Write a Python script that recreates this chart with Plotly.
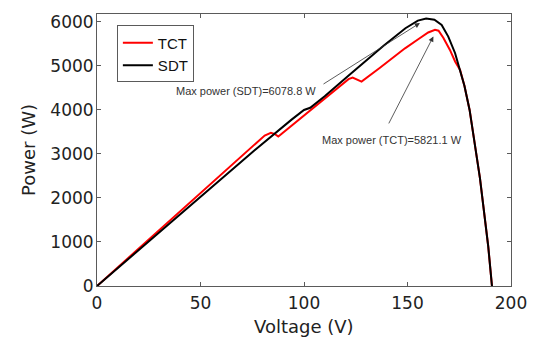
import plotly.graph_objects as go

# SDT (black) curve
sdt_v = [0, 40, 76, 94, 100, 103, 110, 122, 138, 149, 155, 159, 163, 166.5,
         169.7, 173, 175.4, 177.5, 180, 185, 189, 190.8]
sdt_p = [0, 1620, 3080, 3780, 4000, 4050, 4310, 4800, 5440, 5856, 6030, 6079,
         6050, 5932, 5666, 5289, 4909, 4550, 4000, 2450, 900, 0]

# TCT (red) curve
tct_v = [0, 40, 81, 84, 86, 87.6, 95, 103, 110, 119, 121.5, 123.5, 125.5, 127.8,
         136.7, 148.8, 155, 160, 163.3, 165, 167.3, 170.5, 173, 175.4, 177.5,
         180, 185, 189, 190.8]
tct_p = [0, 1690, 3420, 3480, 3450, 3395, 3680, 3990, 4260, 4605, 4700, 4735,
         4700, 4643, 4960, 5400, 5600, 5760, 5821, 5800, 5640, 5364, 5100, 4909,
         4550, 4000, 2450, 900, 0]

x_ticks = [0, 50, 100, 150, 200]
y_ticks = [0, 1000, 2000, 3000, 4000, 5000, 6000]

sdt_label = "Max power (SDT)=6078.8 W"
tct_label = "Max power (TCT)=5821.1 W"

fig = go.Figure()
fig.add_trace(go.Scatter(x=tct_v, y=tct_p, mode="lines", name="TCT",
                         line=dict(color="#ff0000", width=2)))
fig.add_trace(go.Scatter(x=sdt_v, y=sdt_p, mode="lines", name="SDT",
                         line=dict(color="#000000", width=2)))

axis_common = dict(
    showline=True, linecolor="#5a5a5a", linewidth=1, mirror="ticks",
    ticks="inside", ticklen=4, tickcolor="#5a5a5a", showgrid=False,
    zeroline=False, automargin=False,
    tickfont=dict(family="DejaVu Sans", size=17, color="#222"),
)

fig.update_layout(
    width=534, height=338,
    margin=dict(l=97, r=23, t=14, b=52),
    paper_bgcolor="white", plot_bgcolor="white",
    xaxis=dict(range=[0, 200], tickvals=x_ticks, ticklabelstandoff=2,
               **axis_common),
    yaxis=dict(range=[0, 6180], tickvals=y_ticks, ticklabelstandoff=-1,
               **axis_common),
    legend=dict(x=0.048, y=0.958, xanchor="left", yanchor="top",
                bgcolor="white", bordercolor="#5a5a5a", borderwidth=1,
                font=dict(family="Liberation Sans", size=15, color="#111"),
                itemwidth=30, tracegroupgap=0),
    showlegend=True,
)

title_font = dict(family="DejaVu Sans", size=18, color="#222")
fig.add_annotation(x=0.5, y=-0.149, xref="paper", yref="paper",
                   text="Voltage (V)", showarrow=False,
                   xanchor="center", yanchor="middle", font=title_font)
fig.add_annotation(x=-0.1667, y=0.5, xref="paper", yref="paper",
                   text="Power (W)", showarrow=False, textangle=-90,
                   xanchor="center", yanchor="middle", font=title_font)

# arrows
fig.add_annotation(x=156, y=5975, ax=108.7, ay=4568, xref="x", yref="y",
                   axref="x", ayref="y", text="", showarrow=True,
                   arrowhead=2, arrowsize=1.3, arrowwidth=0.8, arrowcolor="#333")
fig.add_annotation(x=162.5, y=5670, ax=140.6, ay=3660, xref="x", yref="y",
                   axref="x", ayref="y", text="", showarrow=True,
                   arrowhead=2, arrowsize=1.3, arrowwidth=0.8, arrowcolor="#333")
# labels
fig.add_annotation(x=106.8, y=4432, xref="x", yref="y", text=sdt_label,
                   showarrow=False, xanchor="right", yanchor="middle",
                   font=dict(family="Liberation Sans", size=11, color="#333"))
fig.add_annotation(x=107.7, y=3318, xref="x", yref="y", text=tct_label,
                   showarrow=False, xanchor="left", yanchor="middle",
                   font=dict(family="Liberation Sans", size=11, color="#333"))

fig.write_html("out.html", config={"displayModeBar": False},
               post_script="document.body.style.margin='0px';")
